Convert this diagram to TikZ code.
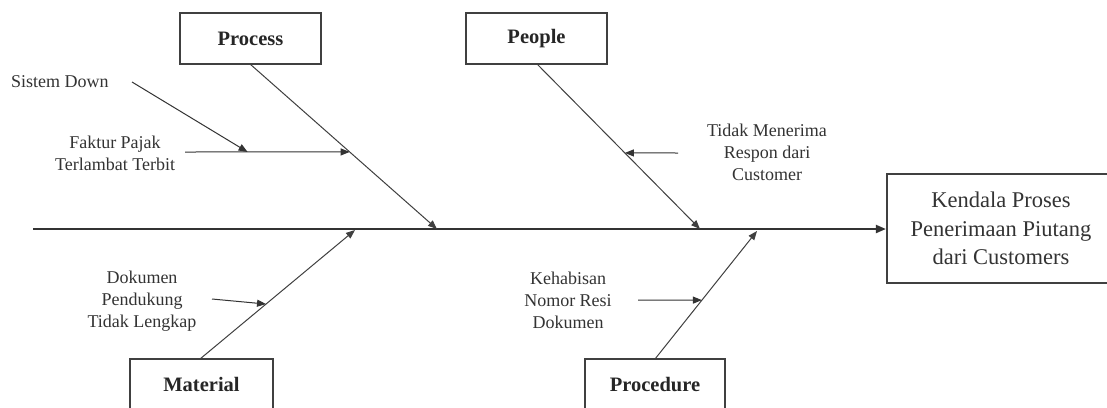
\documentclass[tikz,border=0pt]{standalone}
\usepackage{fontspec}
\setmainfont{Liberation Serif}
\usetikzlibrary{arrows.meta,calc}
\tikzset{
  catbox/.style={draw=black!75, line width=1.3pt, minimum width=141pt, minimum height=51pt, inner sep=0pt,
    font=\fontsize{20.5}{24}\selectfont\bfseries, text=black!85},
  effframe/.style={draw=black!75, line width=2.2pt, minimum width=300pt, minimum height=109pt, inner sep=0pt},
  efftext/.style={align=center, inner sep=0pt, font=\fontsize{22.5}{28.5}\selectfont, text=black!80},
  cause/.style={align=center, font=\fontsize{18}{22}\selectfont, text=black!80, inner sep=0pt},
  bone/.style={draw=black!75, line width=1pt, -{Triangle[length=9pt,width=7pt]}},
  spine/.style={draw=black!80, line width=2pt, -{Triangle[length=10pt,width=8pt]}},
  sub/.style={draw=black!80, line width=1pt, -{Triangle[length=9pt,width=7pt]}}
}
\begin{document}
\begin{tikzpicture}[x=1pt,y=-1pt]
\useasboundingbox (0,0) rectangle (1107,407);
\clip (0,0) rectangle (1107,407);
\fill[white] (0,0) rectangle (1107,407);

% category boxes
\node[catbox] (proc) at (250.5,38.5) {Process};
\node[catbox] (peop) at (536.5,38.5) {People};
\node[catbox, minimum width=143pt] (mat) at (201.5,384.5) {Material};
\node[catbox, minimum width=140pt] (pro) at (655,384.5) {Procedure};

% effect box (its right side runs past the edge of the picture)
\node[effframe] (eff) at (1037,228.5) {};
\node[efftext] (efft) at (1001,228.5) {Kendala Proses\\Penerimaan Piutang\\dari Customers};

% spine
\coordinate (tail) at (33,229);
\draw[spine] (tail) -- (eff.west |- tail);

% bone tips on spine
\coordinate (procTip) at (437,229);
\coordinate (peopTip) at (700,229);
\coordinate (matTip) at (355,230);
\coordinate (proTip) at (757,231);

\coordinate (procTop) at (250,64);
\coordinate (peopTop) at (537,64);
\coordinate (matBot) at (200,359);
\coordinate (proBot) at (655,359);

\draw[bone] (procTop) -- (procTip);
\draw[bone] (peopTop) -- (peopTip);
\draw[bone] (matBot) -- (matTip);
\draw[bone] (proBot) -- (proTip);

% cause labels
\node[cause, anchor=west] (sis) at (11,82) {Sistem Down};
\node[cause] (fak) at (115,153) {Faktur Pajak\\Terlambat Terbit};
\node[cause] (tid) at (767,152) {Tidak Menerima\\Respon dari\\Customer};
\node[cause] (dok) at (142,301) {Dokumen\\Pendukung\\Tidak Lengkap};
\node[cause] (keh) at (568,300) {Kehabisan\\Nomor Resi\\Dokumen};

% cause arrows
\coordinate (fakS) at (185,152);
\coordinate (fakE) at ($(procTop)!0.533!(procTip)$);
\draw[sub] (fakS) -- (fakE);

\coordinate (sisS) at (132,82);
\coordinate (sisE) at ($(fakS)!0.38!(fakE)$);
\draw[sub] (sisS) -- (sisE);

\coordinate (tidS) at (678,153);
\coordinate (tidE) at ($(peopTop)!0.539!(peopTip)$);
\draw[sub] (tidS) -- (tidE);

\coordinate (dokS) at (212,299);
\coordinate (dokE) at ($(matBot)!0.426!(matTip)$);
\draw[sub] (dokS) -- (dokE);

\coordinate (kehS) at (638,300);
\coordinate (kehE) at ($(proBot)!0.46!(proTip)$);
\draw[sub] (kehS) -- (kehE);
\end{tikzpicture}
\end{document}
